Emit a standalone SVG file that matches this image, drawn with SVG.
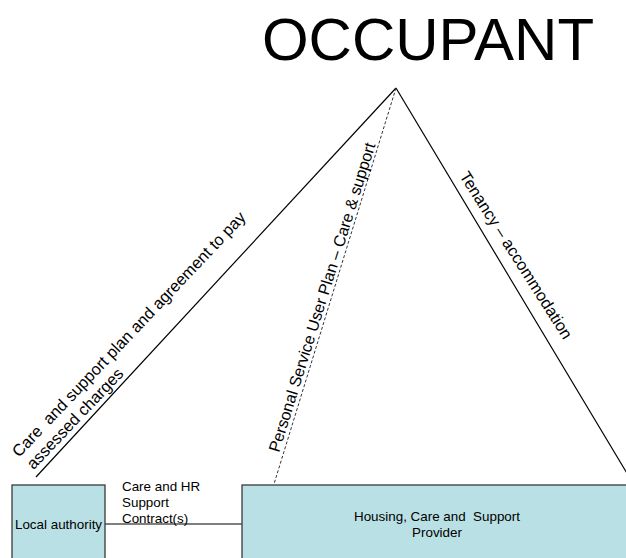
<svg xmlns="http://www.w3.org/2000/svg" width="626" height="558" viewBox="0 0 626 558">
<style>
text{font-family:"Liberation Sans",Arial,sans-serif;fill:#000;white-space:pre}
.lbl{font-size:16.4px}
.small{font-size:13.4px}
.box{fill:#b9e0e4;stroke:#3a3a3a;stroke-width:1.3}
.ln{stroke:#000;stroke-width:1.2;fill:none}
.dash{stroke:#333;stroke-width:1;stroke-dasharray:3 2;fill:none}
</style>
<rect width="626" height="558" fill="#fff"/>
<g id="occupant">
<text x="428" y="60" font-size="60" text-anchor="middle">OCCUPANT</text>
</g>
<g id="connectors">
<line class="ln" x1="396" y1="88" x2="36" y2="477"/>
<line class="ln" x1="396" y1="88" x2="634" y2="485"/>
<line class="dash" x1="396" y1="88" x2="274" y2="484"/>
<line x1="105" y1="524" x2="242" y2="524" stroke="#555" stroke-width="1.5"/>
<text class="lbl" transform="translate(19,458) rotate(-46.5)"><tspan x="0" y="0">Care  and support plan and agreement to pay</tspan><tspan x="1" y="19">assessed charges</tspan></text>
<text class="lbl" style="font-size:16.1px" transform="translate(279,453) rotate(-72.6)">Personal Service User Plan – Care &amp; support</text>
<text class="lbl" transform="translate(459,176) rotate(57.5)">Tenancy – accommodation</text>
<text class="small" x="122" y="491"><tspan x="122">Care and HR</tspan><tspan x="122" dy="16">Support</tspan><tspan x="122" dy="16">Contract(s)</tspan></text>
</g>
<g id="local-authority">
<rect class="box" x="12" y="485" width="93" height="80"/>
<text class="small" x="58.5" y="529" text-anchor="middle">Local authority</text>
</g>
<g id="provider">
<rect class="box" x="242" y="485" width="400" height="80"/>
<text class="small" x="437" y="521" text-anchor="middle">Housing, Care and  Support</text>
<text class="small" x="437" y="537" text-anchor="middle">Provider</text>
</g>
</svg>
